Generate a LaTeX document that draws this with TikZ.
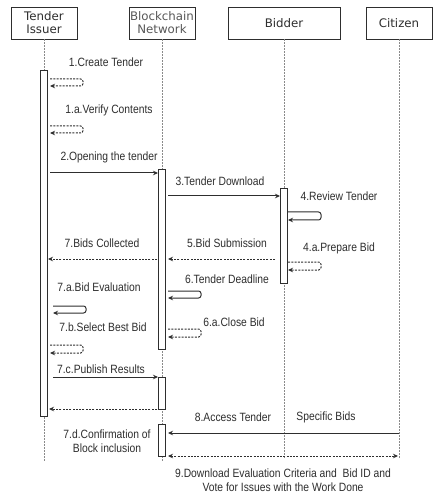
\documentclass[tikz,border=0pt]{standalone}
\usepackage{fontspec}
\usetikzlibrary{arrows.meta}
\newfontfamily\hdfont{DejaVu Sans}
\newfontfamily\labfont{Liberation Sans}[FakeStretch=0.86]
\definecolor{ink}{HTML}{2E2E2E}
\definecolor{life}{HTML}{8A8A8A}
\tikzset{
  head/.style={draw=ink, line width=0.8pt, fill=white, inner sep=0pt, font=\hdfont\fontsize{11.8}{13}\selectfont, text=ink, align=center},
  lifeline/.style={draw=life, line width=0.8pt, dash pattern=on 1.5pt off 1.5pt},
  bar/.style={draw=ink, line width=0.8pt, fill=white, minimum width=7pt, inner sep=0pt, anchor=north},
  lab/.style={font=\labfont\fontsize{12}{14}\selectfont, text=ink, inner sep=0pt, align=center},
  msg/.style={draw=ink, line width=1pt, -{Stealth[length=5pt,width=4.5pt]}},
  ret/.style={draw=ink, line width=1pt, dash pattern=on 2pt off 1.3pt, -{Stealth[length=5pt,width=4.5pt]}},
  selfsolid/.style={msg, rounded corners=2.5pt},
  selfdash/.style={ret, rounded corners=2.5pt},
  both/.style={draw=ink, line width=1pt, dash pattern=on 2pt off 1.3pt, {Stealth[length=5pt,width=4.5pt]}-{Stealth[length=5pt,width=4.5pt]}}
}
\begin{document}
\begin{tikzpicture}[x=1pt,y=-1pt]
\useasboundingbox[fill=white] (0,0) rectangle (441,502);
% headers
\node[head, minimum width=66pt, minimum height=32pt] (hI) at (44,23) {Tender\\Issuer};
\node[head, minimum width=66pt, minimum height=32pt, text=ink!80] (hB) at (162,23) {Blockchain\\Network};
\node[head, minimum width=112pt, minimum height=32pt] (hD) at (284,23) {Bidder};
\node[head, minimum width=66pt, minimum height=32pt] (hC) at (399,23) {Citizen};
% lifeline ends
\coordinate (eI) at (44,461);
\coordinate (eB) at (162,461);
\coordinate (eD) at (284,458);
\coordinate (eC) at (399,458);
\draw[lifeline] (hI.south) -- (eI);
\draw[lifeline] (hB.south) -- (eB);
\draw[lifeline] (hD.south) -- (eD);
\draw[lifeline] (hC.south) -- (eC);
% activation bars
\node[bar, minimum height=346pt] (barI) at (43.5,70) {};
\node[bar, minimum height=180pt] (barB1) at (161.5,169) {};
\node[bar, minimum height=32pt] (barB2) at (161.5,377) {};
\node[bar, minimum height=32pt] (barB3) at (161.5,424) {};
\node[bar, minimum height=95pt] (barD) at (283.5,188) {};
% 1. Create Tender
\node[lab] (l1) at (106,62) {1.Create Tender};
\coordinate (s1) at (50,79);
\draw[selfdash] (s1) -- ++(33,0) -- ++(0,7) -- ++(-33,0);
% 1.a Verify Contents
\node[lab] (l1a) at (109,110) {1.a.Verify Contents};
\coordinate (s1a) at (50,126);
\draw[selfdash] (s1a) -- ++(33,0) -- ++(0,7) -- ++(-33,0);
% 2. Opening the tender
\node[lab] (l2) at (109,157) {2.Opening the tender};
\coordinate (m2a) at (50,173);
\coordinate (m2b) at (158,173);
\draw[msg] (m2a) -- (m2b);
% 3. Tender Download
\node[lab] (l3) at (220,181) {3.Tender Download};
\coordinate (m3a) at (168,196);
\coordinate (m3b) at (280,196);
\draw[msg] (m3a) -- (m3b);
% 4. Review Tender
\node[lab] (l4) at (339,196) {4.Review Tender};
\coordinate (s4) at (288,212);
\draw[selfsolid] (s4) -- ++(33,0) -- ++(0,8) -- ++(-33,0);
% 7. Bids Collected
\node[lab] (l7) at (102,243) {7.Bids Collected};
\coordinate (m7a) at (157,259);
\coordinate (m7b) at (48,259);
\draw[ret] (m7a) -- (m7b);
% 5. Bid Submission
\node[lab] (l5) at (227,243) {5.Bid Submission};
\coordinate (m5a) at (275,259);
\coordinate (m5b) at (168,259);
\draw[ret] (m5a) -- (m5b);
% 4.a Prepare Bid
\node[lab] (l4a) at (339,248) {4.a.Prepare Bid};
\coordinate (s4a) at (288,262);
\draw[selfdash] (s4a) -- ++(33,0) -- ++(0,8) -- ++(-33,0);
% 6. Tender Deadline
\node[lab] (l6) at (227,279) {6.Tender Deadline};
\coordinate (s6) at (168,291);
\draw[selfsolid] (s6) -- ++(33,0) -- ++(0,7) -- ++(-33,0);
% 7.a Bid Evaluation
\node[lab] (l7a) at (99,287) {7.a.Bid Evaluation};
\coordinate (s7a) at (53,306);
\draw[selfsolid] (s7a) -- ++(33,0) -- ++(0,7) -- ++(-33,0);
% 6.a Close Bid
\node[lab] (l6a) at (234,322) {6.a.Close Bid};
\coordinate (s6a) at (168,329);
\draw[selfdash] (s6a) -- ++(33,0) -- ++(0,8) -- ++(-33,0);
% 7.b Select Best Bid
\node[lab] (l7b) at (103,327) {7.b.Select Best Bid};
\coordinate (s7b) at (50,345);
\draw[selfdash] (s7b) -- ++(33,0) -- ++(0,8) -- ++(-33,0);
% 7.c Publish Results
\node[lab] (l7c) at (101,369) {7.c.Publish Results};
\coordinate (m7ca) at (53,377);
\coordinate (m7cb) at (158,377);
\draw[msg] (m7ca) -- (m7cb);
% return
\coordinate (r1a) at (157,409);
\coordinate (r1b) at (49,409);
\draw[ret] (r1a) -- (r1b);
% 8. Access Tender
\node[lab] (l8) at (233,417) {8.Access Tender};
\node[lab] (l8b) at (326,417) {Specific Bids};
\coordinate (m8a) at (399,433);
\coordinate (m8b) at (168,433);
\draw[msg] (m8a) -- (m8b);
% 7.d
\node[lab] (l7d) at (107,441) {7.d.Confirmation of\\[0.5pt]Block inclusion};
% 9.
\coordinate (m9a) at (168,456);
\coordinate (m9b) at (398,456);
\draw[both] (m9a) -- (m9b);
\node[lab] (l9) at (283,480) {9.Download Evaluation Criteria and\ \ Bid ID and\\[0.5pt]Vote for Issues with the Work Done};
\end{tikzpicture}
\end{document}
